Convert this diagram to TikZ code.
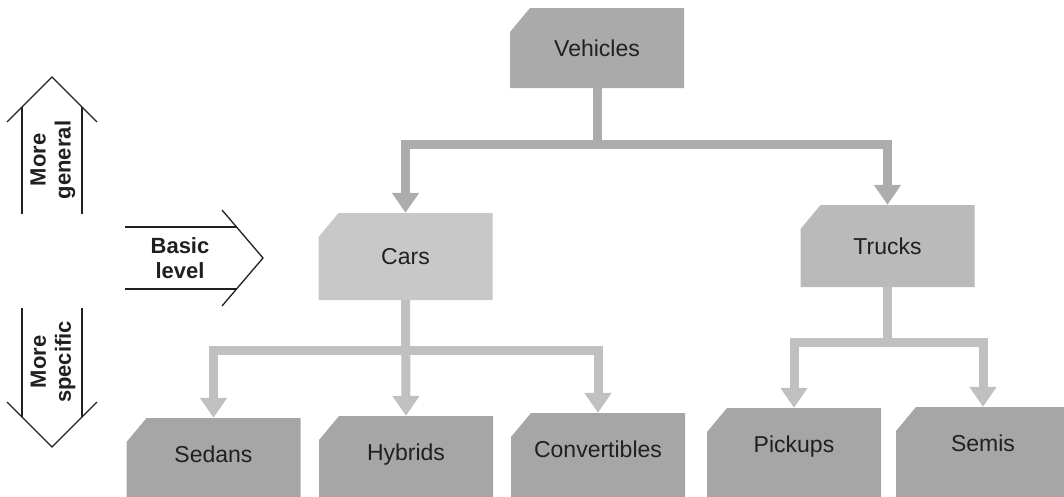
\documentclass[tikz,border=0pt]{standalone}
\usepackage{fontspec}
\setmainfont{Liberation Sans}
\usetikzlibrary{arrows.meta, positioning}
\definecolor{vehfill}{RGB}{170,170,170}
\definecolor{carfill}{RGB}{200,200,200}
\definecolor{truckfill}{RGB}{186,186,186}
\definecolor{leaffill}{RGB}{166,166,166}
\definecolor{toplink}{RGB}{172,172,172}
\definecolor{lowlink}{RGB}{192,192,192}
\definecolor{ink}{RGB}{32,32,32}
\tikzset{
  cat/.style={minimum width=174pt, inner sep=0pt, text=ink,
    font=\fontsize{23}{26}\selectfont,
    path picture={\fill[#1] ([yshift=-24pt]path picture bounding box.north west)
      -- ([xshift=20pt]path picture bounding box.north west)
      -- (path picture bounding box.north east)
      -- (path picture bounding box.south east)
      -- (path picture bounding box.south west) -- cycle;}},
  leaf/.style={cat=leaffill, minimum height=110pt, text height=17pt, text depth=38.5pt},
  link/.style={line width=9pt, draw=#1, -{Triangle[width=26pt,length=20pt]}},
  side/.style={text=ink, align=center, font=\bfseries\fontsize{22}{25}\selectfont, inner sep=0pt},
  chevron/.style={draw=ink, line width=1.3pt}
}

\begin{document}
\begin{tikzpicture}[x=1pt, y=-1pt]
  \useasboundingbox (0,0) rectangle (1064,496);

  \node[cat=vehfill, minimum height=80pt] (vehicles) at (597,48) {Vehicles};
  \node[cat=carfill, minimum height=87pt] (cars) at (405.5,256.5) {Cars};
  \node[cat=truckfill, minimum height=82pt] (trucks) at (887.5,246) {Trucks};

  \node[leaf] (sedans) at (213.5,473) {Sedans};
  \node[leaf] (hybrids) at (406,471) {Hybrids};
  \node[leaf] (convertibles) at (598,468) {Convertibles};
  \node[leaf] (pickups) at (794,463) {Pickups};
  \node[leaf] (semis) at (983,462) {Semis};

  \path (vehicles.south) ++(0,56) coordinate (vbar);
  \path (cars.south) ++(0,50) coordinate (cbar);
  \path (trucks.south) ++(0,55) coordinate (tbar);

  \draw[link=toplink] (vehicles.south) -- (vbar) -| (cars.north);
  \draw[link=toplink] (vehicles.south) -- (vbar) -| (trucks.north);
  \draw[link=lowlink] (cars.south) -- (cbar) -| (sedans.north);
  \draw[link=lowlink] (cars.south) -- (hybrids.north);
  \draw[link=lowlink] (cars.south) -- (cbar) -| (convertibles.north);
  \draw[link=lowlink] (trucks.south) -- (tbar) -| (pickups.north);
  \draw[link=lowlink] (trucks.south) -- (tbar) -| (semis.north);

  \node[side, rotate=90] (general) at (53,160) {More\\general};
  \node[side, rotate=90] (specific) at (53,362) {More\\specific};
  \node[side] (basic) at (180,258) {Basic\\level};

  \draw[chevron] (7,122) -- (52,77) -- (97,122);
  \draw[chevron] (22,107) -- (22,214);
  \draw[chevron] (82,107) -- (82,214);
  \draw[chevron] (7,402) -- (52,447) -- (97,402);
  \draw[chevron] (22,308) -- (22,417);
  \draw[chevron] (82,308) -- (82,417);
  \draw[chevron] (222,210) -- (263,258) -- (222,306);
  \draw[chevron] (125,227) -- (237,227);
  \draw[chevron] (125,289) -- (237,289);
\end{tikzpicture}
\end{document}
